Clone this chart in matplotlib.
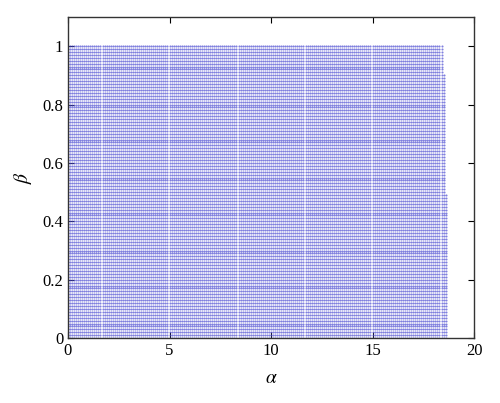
import numpy as np
import matplotlib.pyplot as plt

# Grid of (alpha, beta) points drawn in the region
alpha_step = 0.1
beta_step = 0.01
# upper beta of each band and the largest alpha in that band
beta_breaks = [0.49, 0.90, 1.00]
alpha_max = [18.6, 18.5, 18.4]

xticks = [0, 5, 10, 15, 20]
yticks = [0, 0.2, 0.4, 0.6, 0.8, 1]

plt.rcParams['font.family'] = ['Liberation Serif', 'DejaVu Serif']
plt.rcParams['mathtext.fontset'] = 'stix'

beta_vals = np.round(np.arange(0, 1.0 + beta_step / 2, beta_step), 2)
a_pts, b_pts = [], []
for b in beta_vals:
    i = np.searchsorted(beta_breaks, b - 1e-9)
    a_row = np.arange(0, alpha_max[i] + alpha_step / 2, alpha_step)
    a_pts.append(a_row)
    b_pts.append(np.full_like(a_row, b))
a_pts = np.concatenate(a_pts)
b_pts = np.concatenate(b_pts)

fig = plt.figure(figsize=(5.0, 4.03), dpi=100)
ax = fig.add_axes([0.136, 0.161, 0.812, 0.797])
ax.plot(a_pts, b_pts, 'o', color='#4a4ad0', markersize=1.5, markeredgewidth=0, alpha=0.7)

ax.set_xlim(0, 20)
ax.set_ylim(0, 1.1)
ax.set_xticks(xticks)
ax.set_yticks(yticks)
ax.set_yticklabels(['0', '0.2', '0.4', '0.6', '0.8', '1'])
ax.tick_params(direction='in', top=True, right=True, labelsize=12, length=4, width=0.8)
for s in ax.spines.values():
    s.set_linewidth(1.0)
    s.set_color('#333333')
ax.set_xlabel(r'$\alpha$', fontsize=14, labelpad=8)
ax.set_ylabel(r'$\beta$', fontsize=14, labelpad=6)

fig.savefig('out.png', dpi=100)
